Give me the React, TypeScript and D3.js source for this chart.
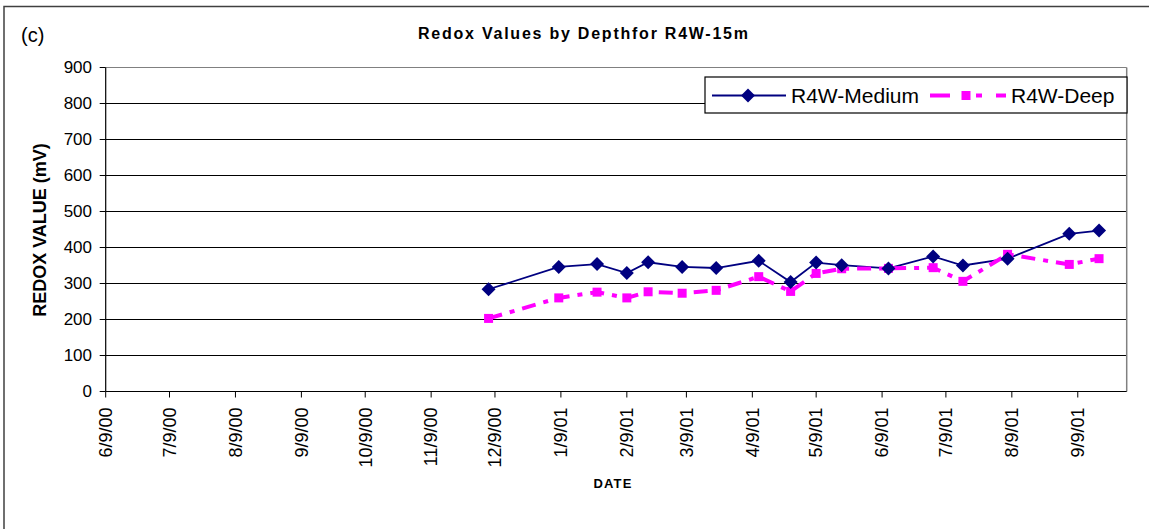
import React from 'react';
import * as d3 from 'd3';

// sample dates and redox readings (mV)
const sampleDates = ['12/6/00', '1/8/01', '1/26/01', '2/9/01', '2/19/01', '3/7/01', '3/23/01', '4/12/01', '4/27/01', '5/9/01', '5/21/01', '6/12/01', '7/3/01', '7/17/01', '8/7/01', '9/5/01', '9/19/01'];
const mediumValues = [284, 346, 354, 329, 359, 346, 343, 363, 304, 358, 351, 342, 375, 350, 369, 438, 447];
const deepValues = [203, 260, 276, 260, 277, 273, 281, 319, 278, 328, 341, 342, 344, 306, 381, 353, 369];

const xTickLabels = ['6/9/00', '7/9/00', '8/9/00', '9/9/00', '10/9/00', '11/9/00', '12/9/00', '1/9/01', '2/9/01', '3/9/01', '4/9/01', '5/9/01', '6/9/01', '7/9/01', '8/9/01', '9/9/01'];
const yTicks = [0, 100, 200, 300, 400, 500, 600, 700, 800, 900];

const parse = d3.timeParse('%m/%d/%y');
const font = 'Arial, "Liberation Sans", sans-serif';

const App = () => {
  const left = 105.7, right = 1126.7, top = 67.5, bottom = 391.5;

  const x = d3.scaleTime()
    .domain([parse('6/9/00') as Date, parse('10/2/01') as Date])
    .range([left, right]);
  const y = d3.scaleLinear().domain([0, 900]).range([bottom, top]);

  const dates = sampleDates.map(d => parse(d) as Date);
  const line = d3.line<number>()
    .x((d, i) => x(dates[i]))
    .y(d => y(d));

  const diamond = (cx, cy, r) => `M${cx},${cy - r}L${cx + r},${cy}L${cx},${cy + r}L${cx - r},${cy}Z`;

  return (
    <div style={{ position: 'absolute', left: 0, top: 0 }}>
      <svg width={1149} height={529} style={{ display: 'block', background: 'white' }}>
        {/* outer chart frame */}
        <rect x={4} y={6.5} width={1300} height={700} fill="white" stroke="#404040" strokeWidth={1.5} />

        <text x={21} y={42} fontFamily={font} fontSize={20}>(c)</text>
        <text x={583} y={39} textAnchor="middle" fontFamily={font} fontSize={16} fontWeight="bold"
          textLength={330} lengthAdjust="spacing">Redox Values by Depthfor R4W-15m</text>

        {/* gridlines */}
        {yTicks.filter(t => t > 0 && t < 900).map(t => (
          <line key={t} x1={left} x2={right} y1={y(t)} y2={y(t)} stroke="black" strokeWidth={1} />
        ))}
        {/* plot area border top / right */}
        <line x1={left} x2={right} y1={top} y2={top} stroke="#808080" strokeWidth={1.2} />
        <line x1={right} x2={right} y1={top} y2={bottom} stroke="#808080" strokeWidth={1.5} />

        {/* axes */}
        <line x1={left} x2={left} y1={top} y2={bottom} stroke="black" strokeWidth={1.2} />
        <line x1={left} x2={right} y1={bottom} y2={bottom} stroke="black" strokeWidth={1.2} />
        {yTicks.map(t => (
          <g key={t}>
            <line x1={left - 6} x2={left} y1={y(t)} y2={y(t)} stroke="black" strokeWidth={1} />
            <text x={92} y={y(t)} dy="0.35em" textAnchor="end" fontFamily={font} fontSize={17}>{t}</text>
          </g>
        ))}
        {xTickLabels.map(l => {
          const tx = x(parse(l) as Date);
          return (
            <g key={l}>
              <line x1={tx} x2={tx} y1={bottom} y2={bottom + 6} stroke="black" strokeWidth={1} />
              <text transform={`translate(${tx},${bottom + 16}) rotate(-90)`} dy="0.35em" textAnchor="end"
                fontFamily={font} fontSize={18}>{l}</text>
            </g>
          );
        })}

        <text transform="translate(40,230) rotate(-90)" dy="0.35em" textAnchor="middle" fontFamily={font}
          fontSize={18} fontWeight="bold">REDOX VALUE (mV)</text>
        <text x={613} y={488} textAnchor="middle" fontFamily={font} fontSize={13} fontWeight="bold"
          letterSpacing={1.2}>DATE</text>

        {/* series */}
        <path d={line(mediumValues) || ''} fill="none" stroke="#000080" strokeWidth={1.8} />
        <path d={line(deepValues) || ''} fill="none" stroke="#FF00FF" strokeWidth={4} strokeDasharray="14,8,5,8" />
        {deepValues.map((v, i) => (
          <rect key={'d' + i} x={x(dates[i]) - 4.5} y={y(v) - 4.5} width={9} height={9} fill="#FF00FF" />
        ))}
        {mediumValues.map((v, i) => (
          <path key={'m' + i} d={diamond(x(dates[i]), y(v), 7)} fill="#000080" />
        ))}

        {/* legend */}
        <rect x={705} y={77} width={422} height={36} fill="white" stroke="black" strokeWidth={1.2} />
        <line x1={712} x2={786} y1={95.5} y2={95.5} stroke="#000080" strokeWidth={1.8} />
        <path d={diamond(748, 95.5, 7)} fill="#000080" />
        <text x={791} y={103} fontFamily={font} fontSize={21}>R4W-Medium</text>
        <line x1={930} x2={1008} y1={95.5} y2={95.5} stroke="#FF00FF" strokeWidth={4} strokeDasharray="20,13,0,13,6,14,10" />
        <rect x={961.5} y={91} width={9} height={9} fill="#FF00FF" />
        <text x={1011} y={103} fontFamily={font} fontSize={21}>R4W-Deep</text>
      </svg>
    </div>
  );
};

export default App;
